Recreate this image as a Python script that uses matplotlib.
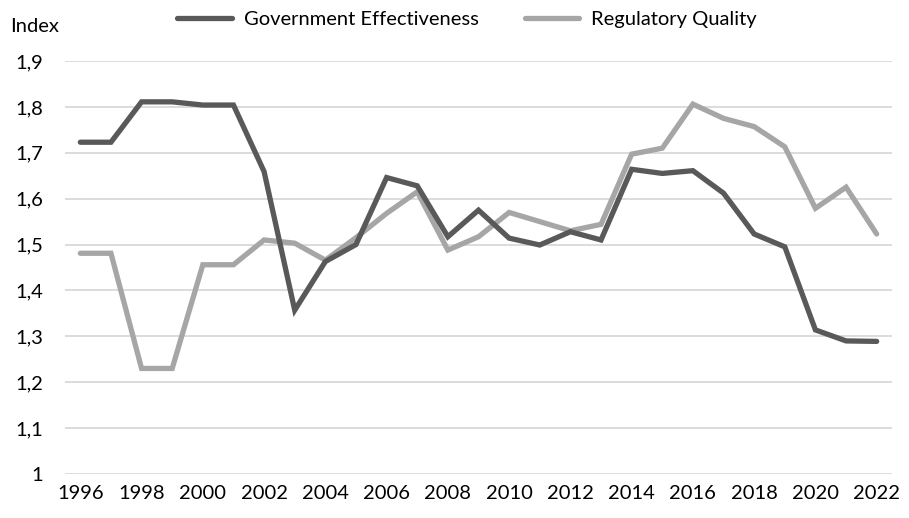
#!/usr/bin/env python3
"""Government Effectiveness vs Regulatory Quality index, 1996-2022."""

import matplotlib
matplotlib.use("Agg")
import matplotlib.pyplot as plt
import numpy as np

YEARS = list(range(1996, 2023))
GOV_EFFECTIVENESS = [
    1.723, 1.723, 1.811, 1.811, 1.804, 1.804, 1.659, 1.357, 1.463, 1.500,
    1.646, 1.628, 1.517, 1.575, 1.514, 1.499, 1.528, 1.510, 1.664, 1.655,
    1.661, 1.612, 1.523, 1.495, 1.314, 1.290, 1.289,
]
REG_QUALITY = [
    1.481, 1.481, 1.230, 1.230, 1.456, 1.456, 1.510, 1.503, 1.466, 1.515,
    1.568, 1.615, 1.488, 1.517, 1.570, 1.550, 1.530, 1.544, 1.697, 1.710,
    1.806, 1.775, 1.757, 1.713, 1.579, 1.625, 1.523,
]
Y_TICKS = [1.0, 1.1, 1.2, 1.3, 1.4, 1.5, 1.6, 1.7, 1.8, 1.9]

DARK = "#595959"
LIGHT = "#a6a6a6"
FONT = 14.5

plt.rcParams["font.family"] = ["Lato", "DejaVu Sans"]


def fmt_comma(v):
    s = f"{v:.1f}".rstrip("0").rstrip(".")
    return s.replace(".", ",")


def main() -> None:
    fig = plt.figure(figsize=(9.09, 5.18), dpi=100)
    ax = fig.add_axes([65 / 909, 1 - 474 / 518, 827 / 909, 413 / 518])
    x = np.arange(len(YEARS))

    ax.plot(x, GOV_EFFECTIVENESS, color=DARK, linewidth=3.8,
            solid_capstyle="round", solid_joinstyle="miter",
            label="Government Effectiveness", zorder=3)
    ax.plot(x, REG_QUALITY, color=LIGHT, linewidth=3.8,
            solid_capstyle="round", solid_joinstyle="miter",
            label="Regulatory Quality", zorder=2)

    ax.set_xlim(-0.5, len(YEARS) - 0.5)
    ax.set_ylim(1.0, 1.9)
    ax.set_yticks(Y_TICKS)
    ax.set_yticklabels([fmt_comma(v) for v in Y_TICKS])
    ax.set_xticks(x[::2])
    ax.set_xticklabels([str(y) for y in YEARS[::2]])
    ax.tick_params(axis="both", length=0, labelsize=FONT, colors="black")
    ax.tick_params(axis="y", pad=16)
    ax.tick_params(axis="x", pad=8)
    ax.grid(axis="y", color="#d9d9d9", linewidth=1.3)
    ax.set_axisbelow(True)
    for spine in ax.spines.values():
        spine.set_visible(False)

    fig.text(10 / 909, 1 - 27 / 518, "Index", fontsize=FONT, va="center", ha="left")
    fig.legend(loc="center", bbox_to_anchor=(467 / 909, 1 - 19 / 518), ncol=2,
               frameon=False, fontsize=FONT, handlelength=2.7,
               handletextpad=0.6, columnspacing=2.3)

    fig.savefig("out.png", dpi=100)
    plt.close(fig)


if __name__ == "__main__":
    main()
